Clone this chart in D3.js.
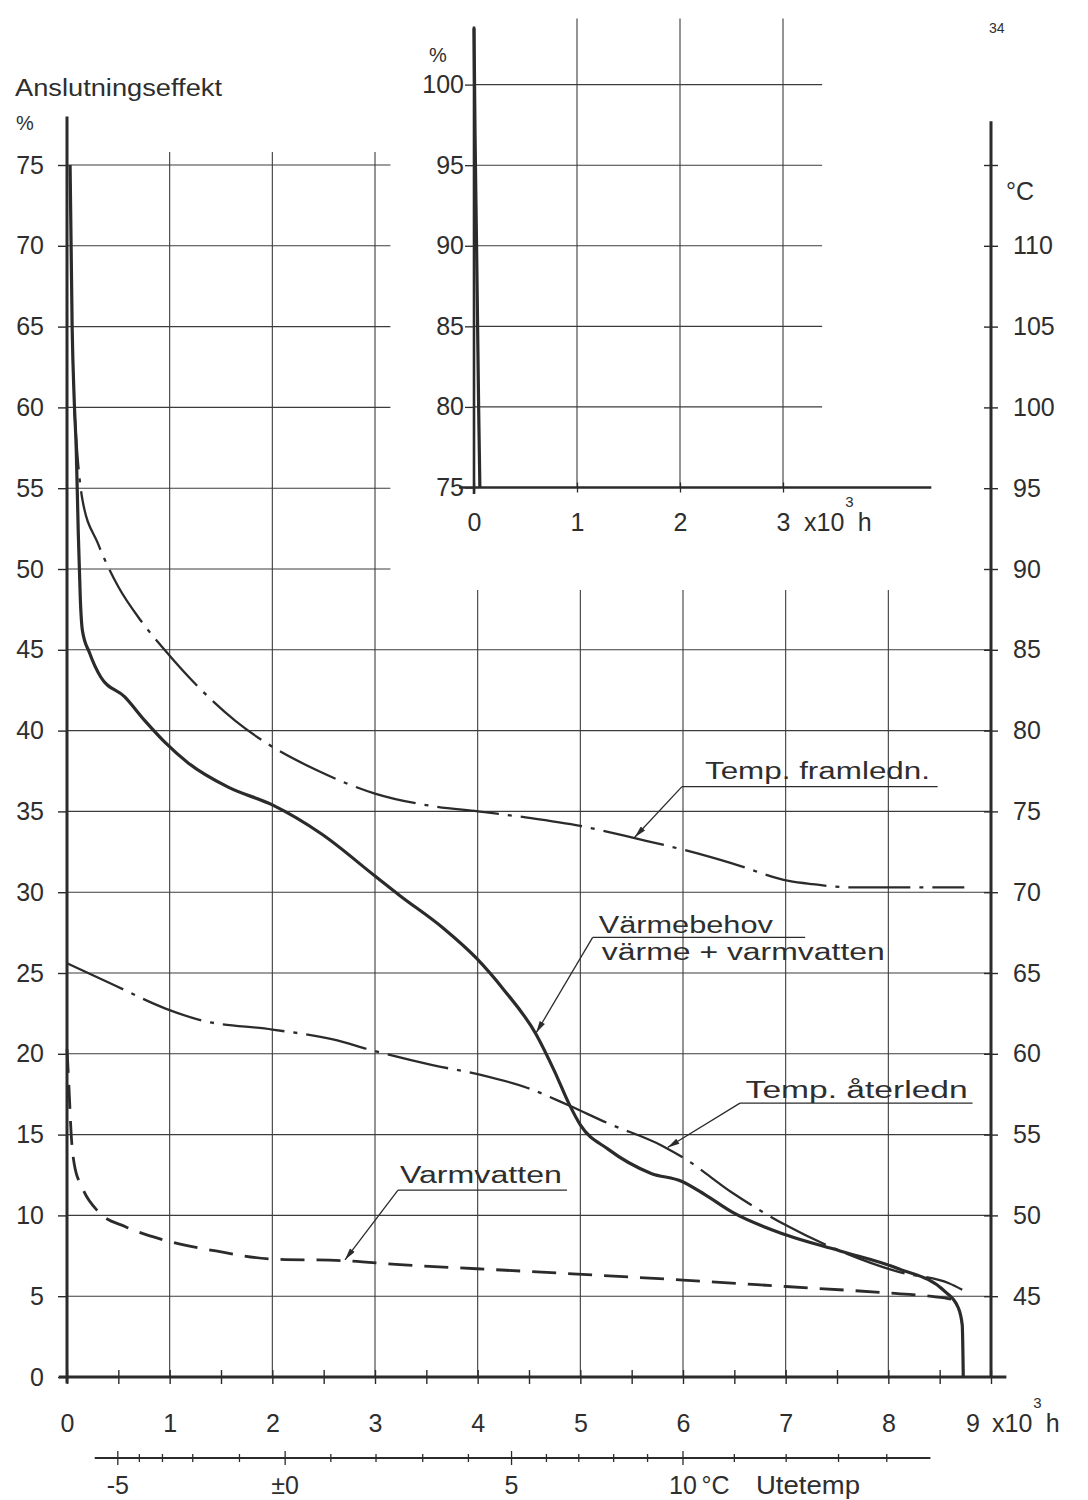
<!DOCTYPE html>
<html>
<head>
<meta charset="utf-8">
<script src="https://cdn.jsdelivr.net/npm/d3@7"></script>
<style>
  body { margin: 0; background: #fff; }
  svg { display: block; font-family: "Liberation Sans", Arial, sans-serif; }
  .lbl, .tick text { fill: #2e2e2e; font-size: 25px; }
</style>
</head>
<body>
<div class="chart"></div>
<script>
// ---- data (x in 10^3 h, y in % of connected load; deg C = % + 40) ----
const varmebehovH   = [0.03, 0.05, 0.07, 0.09, 0.11, 0.13, 0.15, 0.22, 0.33, 0.56, 0.76, 0.95, 1.18, 1.57, 2.0, 2.48, 3.0, 3.24, 3.66, 3.99, 4.25, 4.57, 4.75, 4.89, 5.0, 5.27, 5.69, 5.99, 6.21, 6.48, 7.0, 7.53, 8.1, 8.55, 8.68, 8.72, 8.73]
const varmebehovPct = [75, 65, 60.5, 57.4, 52.2, 48.1, 46.2, 44.8, 43.3, 42.1, 40.6, 39.3, 38.0, 36.5, 35.4, 33.6, 31.0, 29.8, 27.8, 25.9, 24.0, 21.2, 18.9, 16.9, 15.6, 14.1, 12.6, 12.1, 11.3, 10.2, 8.8, 7.8, 6.7, 5.3, 4.3, 3.2, 0]

// top of the same curve, drawn in the small inset (75..100 %)
const insetH   = [0, 0.01, 0.025, 0.035, 0.045, 0.057]
const insetPct = [103.5, 97, 90, 85, 80, 75]

const framlednH   = [0.07, 0.11, 0.15, 0.30, 0.50, 0.72, 0.95, 1.31, 1.64, 2.0, 2.45, 3.0, 3.59, 4.0, 4.5, 5.0, 5.56, 6.02, 6.47, 7.03, 7.26, 7.63, 8.0, 8.74]
const framlednPct = [60, 56.4, 54.3, 51.6, 48.9, 46.8, 45.0, 42.5, 40.6, 39.0, 37.5, 36.1, 35.3, 35.0, 34.6, 34.1, 33.3, 32.6, 31.8, 30.7, 30.5, 30.3, 30.3, 30.3]

const aterlednH   = [0, 0.41, 0.96, 1.29, 2.0, 2.59, 2.98, 3.56, 4.03, 4.48, 4.89, 5.27, 5.8, 6.02, 6.48, 7.0, 7.53, 8.1, 8.59, 8.72]
const aterlednPct = [25.6, 24.4, 22.8, 22.1, 21.5, 20.9, 20.2, 19.3, 18.7, 17.9, 16.8, 15.7, 14.3, 13.5, 11.4, 9.4, 7.8, 6.5, 5.8, 5.4]

const varmvattenH   = [0, 0.02, 0.04, 0.07, 0.15, 0.31, 0.57, 0.93, 1.45, 2.0, 2.69, 3.24, 3.99, 4.97, 6.0, 7.0, 8.0, 8.4, 8.62, 8.68]
const varmvattenPct = [20.3, 17.8, 15.1, 13.2, 11.7, 10.2, 9.3, 8.5, 7.8, 7.3, 7.2, 6.95, 6.7, 6.37, 6.0, 5.6, 5.2, 5.0, 4.8, 4.4]

// outdoor temperature scale under the hour axis (non linear)
const utetempC     = [-5, -4, -3, -2, -1, 0, 1, 2, 3, 4, 5, 6, 7, 8, 9, 10, 11, 12, 13, 14]
const utetempHours = [0.49, 0.70, 0.925, 1.22, 1.675, 2.12, 2.565, 3.005, 3.46, 3.905, 4.325, 4.665, 4.98, 5.32, 5.65, 5.995, 6.495, 7.0, 7.51, 7.98]
const utetempMajor = [-5, 0, 5, 10]
const utetempText  = ["-5", "±0", "5", "10"]

const pctTicks     = [0, 5, 10, 15, 20, 25, 30, 35, 40, 45, 50, 55, 60, 65, 70, 75]
const degTicks     = [45, 50, 55, 60, 65, 70, 75, 80, 85, 90, 95, 100, 105, 110, 115]
const hourTicks    = [0, 0.5, 1, 1.5, 2, 2.5, 3, 3.5, 4, 4.5, 5, 5.5, 6, 6.5, 7, 7.5, 8, 8.5, 9]
const hourLabels   = [0, 1, 2, 3, 4, 5, 6, 7, 8]
const insetPctTicks  = [75, 80, 85, 90, 95, 100]
const insetHourTicks = [0, 1, 2, 3]

const ink = "#2b2b2b"
const gridInk = "#3c3c3c"

const svg = d3.select(".chart").append("svg").attr("width", 1088).attr("height", 1500)

const x  = d3.scaleLinear().domain([0, 9]).range([67, 991])
const y  = d3.scaleLinear().domain([0, 75]).range([1377, 165])
const yC = d3.scaleLinear().domain([40, 115]).range([1377, 165])
const xi = d3.scaleLinear().domain([0, 3]).range([474, 783])
const yi = d3.scaleLinear().domain([75, 100]).range([487.5, 84.6])
const tempScale = d3.scaleLinear().domain(utetempC).range(utetempHours.map(x))

svg.append("defs").append("marker")
  .attr("id", "arr").attr("viewBox", "0 0 12 6").attr("refX", 12).attr("refY", 3)
  .attr("markerWidth", 14).attr("markerHeight", 6).attr("markerUnits", "userSpaceOnUse")
  .attr("orient", "auto")
  .append("path").attr("d", "M0,0L12,3L0,6Z").attr("fill", ink)

// ---- main grid ----
const grid = svg.append("g").attr("stroke", gridInk).attr("stroke-width", 1.1)
grid.selectAll(".hlo").data(pctTicks.filter(d => d > 0 && d <= 45)).enter().append("line")
  .attr("x1", x(0)).attr("x2", x(9)).attr("y1", d => y(d)).attr("y2", d => y(d))
grid.selectAll(".hhi").data(pctTicks.filter(d => d > 45)).enter().append("line")
  .attr("x1", x(0)).attr("x2", x(3.15)).attr("y1", d => y(d)).attr("y2", d => y(d))
grid.selectAll(".vlo").data([1, 2, 3]).enter().append("line")
  .attr("x1", d => x(d)).attr("x2", d => x(d)).attr("y1", y(0)).attr("y2", y(75.8))
grid.selectAll(".vhi").data([4, 5, 6, 7, 8]).enter().append("line")
  .attr("x1", d => x(d)).attr("x2", d => x(d)).attr("y1", y(0)).attr("y2", y(48.7))

// ---- left axis (%) ----
const gL = svg.append("g").attr("transform", `translate(${x(0)},0)`)
  .call(d3.axisLeft(y).tickValues(pctTicks).tickSize(9).tickPadding(14).tickFormat(d3.format("d")))
gL.attr("font-size", null).attr("font-family", null)
gL.select(".domain").remove()
gL.selectAll(".tick line").attr("stroke", ink).attr("stroke-width", 1.4)
svg.append("line").attr("x1", x(0)).attr("x2", x(0)).attr("y1", y(-0.4)).attr("y2", y(78))
  .attr("stroke", ink).attr("stroke-width", 3)

// ---- right axis (deg C) ----
const gR = svg.append("g").attr("transform", `translate(${x(9)},0)`)
  .call(d3.axisRight(yC).tickValues(degTicks).tickSize(7).tickPadding(15).tickFormat(d => d === 115 ? "" : d))
gR.attr("font-size", null).attr("font-family", null)
gR.select(".domain").remove()
gR.selectAll(".tick line").attr("x1", -7).attr("stroke", ink).attr("stroke-width", 1.4)
svg.append("line").attr("x1", x(9)).attr("x2", x(9)).attr("y1", y(0)).attr("y2", y(77.7))
  .attr("stroke", ink).attr("stroke-width", 3)
svg.append("text").attr("class", "lbl").attr("x", 1006).attr("y", 200).text("°C")

// ---- bottom axis (hours) ----
const gB = svg.append("g").attr("transform", `translate(0,${y(0)})`)
  .call(d3.axisBottom(x).tickValues(hourTicks).tickSize(7)
    .tickFormat(d => hourLabels.includes(d) ? d : ""))
gB.attr("font-size", null).attr("font-family", null)
gB.select(".domain").remove()
gB.selectAll(".tick line").attr("y1", -7).attr("stroke", ink).attr("stroke-width", 1.4)
gB.selectAll(".tick text").attr("y", 55).attr("dy", null)
svg.append("line").attr("x1", x(-0.08)).attr("x2", x(9.15)).attr("y1", y(0)).attr("y2", y(0))
  .attr("stroke", ink).attr("stroke-width", 3)

function perHour(g, x0, base) {
  const t = g.append("text").attr("class", "lbl").attr("x", x0).attr("y", base)
  t.append("tspan").text("x10")
  t.append("tspan").style("font-size", "15px").attr("dy", -24).attr("dx", 1).text("3")
  t.append("tspan").attr("dy", 24).attr("dx", 4).text("h")
}
svg.append("text").attr("class", "lbl").attr("x", x(9) - 18).attr("y", y(0) + 55)
  .attr("text-anchor", "middle").text("9")
perHour(svg, 992, y(0) + 55)

// ---- outdoor temperature axis ----
const tempY = 1458
const gT = svg.append("g").attr("transform", `translate(0,${tempY})`)
  .call(d3.axisBottom(tempScale).tickValues(utetempC).tickSize(4)
    .tickFormat(d => { const i = utetempMajor.indexOf(d); return i < 0 ? "" : utetempText[i] }))
gT.attr("font-size", null).attr("font-family", null)
gT.select(".domain").remove()
gT.selectAll(".tick line")
  .attr("y1", d => utetempMajor.includes(d) ? -7 : -4)
  .attr("y2", d => utetempMajor.includes(d) ? 7 : 4)
  .attr("stroke", ink).attr("stroke-width", 1.3)
gT.selectAll(".tick text").attr("y", 36).attr("dy", null)
svg.append("line").attr("x1", x(0.27)).attr("x2", x(8.41)).attr("y1", tempY).attr("y2", tempY)
  .attr("stroke", ink).attr("stroke-width", 2)
svg.append("text").attr("class", "lbl").attr("x", tempScale(10) + 19).attr("y", tempY + 36).text("°C")
svg.append("text").attr("class", "lbl").attr("x", 756).attr("y", tempY + 36)
  .attr("textLength", 104).attr("lengthAdjust", "spacingAndGlyphs").text("Utetemp")

// ---- titles ----
svg.append("text").attr("class", "lbl").attr("x", 15).attr("y", 96)
  .style("font-size", "23px").attr("textLength", 207).attr("lengthAdjust", "spacingAndGlyphs")
  .text("Anslutningseffekt")
svg.append("text").attr("class", "lbl").attr("x", 16).attr("y", 130).style("font-size", "20px").text("%")
svg.append("text").attr("class", "lbl").attr("x", 989).attr("y", 33).style("font-size", "14px").text("34")

// ---- inset ----
const inset = svg.append("g")
inset.selectAll(".ih").data(insetPctTicks.filter(d => d > 75)).enter().append("line")
  .attr("x1", xi(0)).attr("x2", xi(3.38)).attr("y1", d => yi(d)).attr("y2", d => yi(d))
  .attr("stroke", gridInk).attr("stroke-width", 1.1)
inset.selectAll(".iv").data([1, 2, 3]).enter().append("line")
  .attr("x1", d => xi(d)).attr("x2", d => xi(d)).attr("y1", yi(75)).attr("y2", yi(104.1))
  .attr("stroke", gridInk).attr("stroke-width", 1.1)
const gIL = inset.append("g").attr("transform", `translate(${xi(0)},0)`)
  .call(d3.axisLeft(yi).tickValues(insetPctTicks).tickSize(9).tickPadding(1).tickFormat(d3.format("d")))
gIL.attr("font-size", null).attr("font-family", null)
gIL.select(".domain").remove()
gIL.selectAll(".tick line").attr("stroke", ink).attr("stroke-width", 1.3)
const gIB = inset.append("g").attr("transform", `translate(0,${yi(75)})`)
  .call(d3.axisBottom(xi).tickValues(insetHourTicks).tickSize(5).tickFormat(d3.format("d")))
gIB.attr("font-size", null).attr("font-family", null)
gIB.select(".domain").remove()
gIB.selectAll(".tick line").attr("y1", -5).attr("stroke", ink).attr("stroke-width", 1.3)
gIB.selectAll(".tick text").attr("y", 43).attr("dy", null)
inset.append("line").attr("x1", xi(0)).attr("x2", xi(0)).attr("y1", yi(74.6)).attr("y2", yi(103.6))
  .attr("stroke", ink).attr("stroke-width", 2.6)
inset.append("line").attr("x1", xi(-0.145)).attr("x2", xi(4.44)).attr("y1", yi(75)).attr("y2", yi(75))
  .attr("stroke", ink).attr("stroke-width", 2.6)
inset.append("text").attr("class", "lbl").attr("x", 429).attr("y", 62).style("font-size", "20px").text("%")
perHour(inset, 804, yi(75) + 43)

const line = d3.line().x(d => x(d[0])).y(d => y(d[1])).curve(d3.curveMonotoneX)
const lineInset = d3.line().x(d => xi(d[0])).y(d => yi(d[1])).curve(d3.curveMonotoneX)
const zip = (a, b) => a.map((v, i) => [v, b[i]])

inset.append("path").datum(zip(insetH, insetPct)).attr("d", lineInset)
  .attr("fill", "none").attr("stroke", ink).attr("stroke-width", 3.2)

// ---- curves ----
svg.append("path").datum(zip(framlednH, framlednPct)).attr("d", line)
  .attr("fill", "none").attr("stroke", ink).attr("stroke-width", 2.3)
  .attr("stroke-dasharray", "62,9,4,9")
svg.append("path").datum(zip(aterlednH, aterlednPct)).attr("d", line)
  .attr("fill", "none").attr("stroke", ink).attr("stroke-width", 2.3)
  .attr("stroke-dasharray", "62,9,4,9")
svg.append("path").datum(zip(varmvattenH, varmvattenPct)).attr("d", line)
  .attr("fill", "none").attr("stroke", ink).attr("stroke-width", 2.8)
  .attr("stroke-dasharray", "24,12")
svg.append("path").datum(zip(varmebehovH, varmebehovPct)).attr("d", line)
  .attr("fill", "none").attr("stroke", ink).attr("stroke-width", 3.2)

// ---- curve labels with leaders (positions in hours / %) ----
const notes = [
  { lines: ["Temp. framledn."], tx: 6.214, base: 37.0, len: [225], ux: [5.99, 8.48], uy: 36.53, tip: [5.53, 33.4] },
  { lines: ["Värmebehov", "värme + varmvatten"], tx: 5.18, base: 27.48, len: [174, 283], ux: [5.12, 7.19], uy: 27.2, tip: [4.57, 21.3] },
  { lines: ["Temp. återledn"], tx: 6.61, base: 17.26, len: [222], ux: [6.555, 8.82], uy: 16.95, tip: [5.85, 14.2] },
  { lines: ["Varmvatten"], tx: 3.243, base: 12.0, len: [162], ux: [3.224, 4.87], uy: 11.57, tip: [2.708, 7.25] }
]
const ng = svg.append("g").selectAll("g").data(notes).enter().append("g")
ng.each(function (n) {
  const g = d3.select(this)
  n.lines.forEach((t, i) => {
    g.append("text").attr("class", "lbl").style("font-size", "23px")
      .attr("x", x(n.tx) + i * 3).attr("y", y(n.base) + i * 27)
      .attr("textLength", n.len[i]).attr("lengthAdjust", "spacingAndGlyphs").text(t)
  })
  g.append("line").attr("x1", x(n.ux[0])).attr("x2", x(n.ux[1]))
    .attr("y1", y(n.uy)).attr("y2", y(n.uy)).attr("stroke", ink).attr("stroke-width", 1.3)
  g.append("line").attr("x1", x(n.ux[0])).attr("y1", y(n.uy))
    .attr("x2", x(n.tip[0])).attr("y2", y(n.tip[1]))
    .attr("stroke", ink).attr("stroke-width", 1.3).attr("marker-end", "url(#arr)")
})
</script>
</body>
</html>
